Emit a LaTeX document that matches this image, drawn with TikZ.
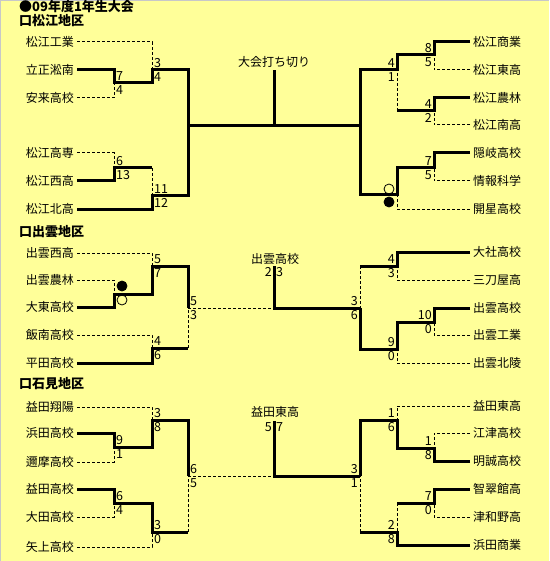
\documentclass[tikz,border=0pt]{standalone}
\usepackage{fontspec}
\setmainfont{Noto Sans CJK JP}
\usetikzlibrary{positioning}
\definecolor{bgyellow}{RGB}{255,255,153}
\definecolor{edgegray}{RGB}{200,200,200}

\begin{document}
\begin{tikzpicture}[x=1pt, y=-1pt,
    teamL/.style={anchor=east, inner sep=3pt, font=\fontsize{12}{12}\selectfont},
    teamR/.style={anchor=west, inner sep=3pt, font=\fontsize{12}{12}\selectfont},
    head/.style={anchor=west, inner sep=0pt, font=\fontsize{13}{13}\selectfont\bfseries},
    lbl/.style={inner sep=0pt, font=\fontsize{12}{12}\selectfont},
    sc/.style={inner sep=0pt, font=\fontsize{12.5}{12.5}\selectfont},
    win/.style={line width=3pt},
    lose/.style={line width=1pt, dash pattern=on 3pt off 2pt},
    wmark/.style={circle, draw, line width=0.8pt, minimum size=10pt, inner sep=0pt},
    lmark/.style={wmark, fill=black}
  ]
    \useasboundingbox (0,0) rectangle (549,561);
    \fill[bgyellow] (0,0) rectangle (549,561);
    \fill[edgegray] (0,0) rectangle (549,1);
    \fill[edgegray] (0,0) rectangle (1,561);

    % headings
    \node[head] (hT) at (19,7) {●09年度1年生大会};
    \node[head] (hM) at (19,21) {口松江地区};
    \node[head] (hI) at (19,232) {口出雲地区};
    \node[head] (hW) at (19,384) {口石見地区};

    % ---------------- Matsue, left
    \node[teamL] (mL1) at (77,42) {松江工業};
    \node[teamL] (mL2) at (77,70) {立正淞南};
    \node[teamL] (mL3) at (77,98) {安来高校};
    \node[teamL] (mL4) at (77,153) {松江高専};
    \node[teamL] (mL5) at (77,181) {松江西高};
    \node[teamL] (mL6) at (77,209) {松江北高};
    \coordinate (mJa) at (114,83);
    \coordinate (mJb) at (152,70);
    \coordinate (mJc) at (114,168);
    \coordinate (mJd) at (152,196);
    \coordinate (mJe) at (188,126);
    \draw[lose] (mL1.east) -| (mJb);
    \draw[lose] (mL3.east) -| (mJa);
    \draw[win] (mL2.east) -| (mJa) -| (mJb) -| (mJe);
    \draw[lose] (mL4.east) -| (mJc);
    \draw[win] (mL5.east) -| (mJc) -- (mJc -| mJd);
    \draw[lose] (mJc -| mJd) -- (mJd);
    \draw[win] (mL6.east) -| (mJd) -| (mJe);
    \node[sc, above right=2pt and 2pt] (mSa1) at (mJa) {7};
    \node[sc, below right=2pt and 2pt] (mSa2) at (mJa) {4};
    \node[sc, above right=2pt and 2pt] (mSb1) at (mJb) {3};
    \node[sc, below right=2pt and 2pt] (mSb2) at (mJb) {4};
    \node[sc, above right=2pt and 2pt] (mSc1) at (mJc) {6};
    \node[sc, below right=2pt and 2pt] (mSc2) at (mJc) {13};
    \node[sc, above right=2pt and 2pt] (mSd1) at (mJd) {11};
    \node[sc, below right=2pt and 2pt] (mSd2) at (mJd) {12};

    % Matsue, final
    \coordinate (mF) at (274,126);
    \coordinate (mT) at (274,70);
    \coordinate (mRJf) at (360,126);
    \draw[win] (mJe) -- (mRJf);
    \draw[win] (mF) -- (mT);
    \node[lbl] (mW) at (274,62) {大会打ち切り};

    % Matsue, right
    \node[teamR] (mR1) at (470,42) {松江商業};
    \node[teamR] (mR2) at (470,70) {松江東高};
    \node[teamR] (mR3) at (470,98) {松江農林};
    \node[teamR] (mR4) at (470,125) {松江南高};
    \node[teamR] (mR5) at (470,153) {隠岐高校};
    \node[teamR] (mR6) at (470,181) {情報科学};
    \node[teamR] (mR7) at (470,209) {開星高校};
    \coordinate (mRJa) at (434,55);
    \coordinate (mRJb) at (434,111);
    \coordinate (mRJc) at (397,70);
    \coordinate (mRJd) at (434,168);
    \coordinate (mRJe) at (397,195);
    \draw[win] (mR1.west) -| (mRJa) -| (mRJc) -| (mRJf);
    \draw[lose] (mR2.west) -| (mRJa);
    \draw[win] (mR3.west) -| (mRJb) -- (mRJb -| mRJc);
    \draw[lose] (mRJb -| mRJc) -- (mRJc);
    \draw[lose] (mR4.west) -| (mRJb);
    \draw[win] (mR5.west) -| (mRJd) -| (mRJe) -| (mRJf);
    \draw[lose] (mR6.west) -| (mRJd);
    \draw[lose] (mR7.west) -| (mRJe);
    \node[sc, above left=2pt and 2pt] (mSe1) at (mRJa) {8};
    \node[sc, below left=2pt and 2pt] (mSe2) at (mRJa) {5};
    \node[sc, above left=2pt and 2pt] (mSf1) at (mRJb) {4};
    \node[sc, below left=2pt and 2pt] (mSf2) at (mRJb) {2};
    \node[sc, above left=2pt and 2pt] (mSg1) at (mRJc) {4};
    \node[sc, below left=2pt and 2pt] (mSg2) at (mRJc) {1};
    \node[sc, above left=2pt and 2pt] (mSh1) at (mRJd) {7};
    \node[sc, below left=2pt and 2pt] (mSh2) at (mRJd) {5};
    \node[wmark] (mC1) at (389,189) {};
    \node[lmark] (mC2) at (389,202) {};

    % ---------------- Izumo, left
    \node[teamL] (iL1) at (77,253) {出雲西高};
    \node[teamL] (iL2) at (77,280) {出雲農林};
    \node[teamL] (iL3) at (77,307) {大東高校};
    \node[teamL] (iL4) at (77,335) {飯南高校};
    \node[teamL] (iL5) at (77,363) {平田高校};
    \coordinate (iJa) at (114,294);
    \coordinate (iJb) at (152,266);
    \coordinate (iJc) at (152,348);
    \coordinate (iJd) at (188,308);
    \draw[lose] (iL1.east) -| (iJb);
    \draw[lose] (iL2.east) -| (iJa);
    \draw[win] (iL3.east) -| (iJa) -| (iJb) -| (iJd);
    \draw[lose] (iL4.east) -| (iJc);
    \draw[win] (iL5.east) -| (iJc) -- (iJc -| iJd);
    \draw[lose] (iJc -| iJd) -- (iJd);
    \node[lmark] (iC1) at (122,286) {};
    \node[wmark] (iC2) at (122,300) {};
    \node[sc, above right=2pt and 2pt] (iSb1) at (iJb) {5};
    \node[sc, below right=2pt and 2pt] (iSb2) at (iJb) {7};
    \node[sc, above right=2pt and 2pt] (iSc1) at (iJc) {4};
    \node[sc, below right=2pt and 2pt] (iSc2) at (iJc) {6};
    \node[sc, above right=2pt and 2pt] (iSd1) at (iJd) {5};
    \node[sc, below right=2pt and 2pt] (iSd2) at (iJd) {3};

    % Izumo, right
    \node[teamR] (iR1) at (470,252) {大社高校};
    \node[teamR] (iR2) at (470,280) {三刀屋高};
    \node[teamR] (iR3) at (470,308) {出雲高校};
    \node[teamR] (iR4) at (470,335) {出雲工業};
    \node[teamR] (iR5) at (470,363) {出雲北陵};
    \coordinate (iRJa) at (397,266);
    \coordinate (iRJb) at (434,322);
    \coordinate (iRJc) at (397,349);
    \coordinate (iRJe) at (360,308);
    \draw[win] (iR1.west) -| (iRJa) -- (iRJa -| iRJe);
    \draw[lose] (iRJa -| iRJe) -- (iRJe);
    \draw[lose] (iR2.west) -| (iRJa);
    \draw[win] (iR3.west) -| (iRJb) -| (iRJc) -| (iRJe);
    \draw[lose] (iR4.west) -| (iRJb);
    \draw[lose] (iR5.west) -| (iRJc);
    \node[sc, above left=2pt and 2pt] (iSe1) at (iRJa) {4};
    \node[sc, below left=2pt and 2pt] (iSe2) at (iRJa) {3};
    \node[sc, above left=2pt and 2pt] (iSf1) at (iRJb) {10};
    \node[sc, below left=2pt and 2pt] (iSf2) at (iRJb) {0};
    \node[sc, above left=2pt and 2pt] (iSg1) at (iRJc) {9};
    \node[sc, below left=2pt and 2pt] (iSg2) at (iRJc) {0};
    \node[sc, above left=2pt and 2pt] (iSh1) at (iRJe) {3};
    \node[sc, below left=2pt and 2pt] (iSh2) at (iRJe) {6};

    % Izumo, final
    \coordinate (iF) at (274,308);
    \coordinate (iT) at (274,266);
    \draw[lose] (iJd) -- (iF);
    \draw[win] (iRJe) -- (iF) -- (iT);
    \node[lbl] (iW) at (275,259) {出雲高校};
    \node[sc, below left=1pt and 2pt] (iS1) at (iT) {2};
    \node[sc, below right=1pt and 2pt] (iS2) at (iT) {3};

    % ---------------- Iwami, left
    \node[teamL] (wL1) at (77,407) {益田翔陽};
    \node[teamL] (wL2) at (77,433) {浜田高校};
    \node[teamL] (wL3) at (77,462) {邇摩高校};
    \node[teamL] (wL4) at (77,489) {益田高校};
    \node[teamL] (wL5) at (77,517) {大田高校};
    \node[teamL] (wL6) at (77,547) {矢上高校};
    \coordinate (wJa) at (114,447);
    \coordinate (wJb) at (152,420);
    \coordinate (wJc) at (114,503);
    \coordinate (wJd) at (152,532);
    \coordinate (wJe) at (188,476);
    \draw[lose] (wL1.east) -| (wJb);
    \draw[win] (wL2.east) -| (wJa) -| (wJb) -| (wJe);
    \draw[lose] (wL3.east) -| (wJa);
    \draw[win] (wL4.east) -| (wJc) -| (wJd) -- (wJd -| wJe);
    \draw[lose] (wJd -| wJe) -- (wJe);
    \draw[lose] (wL5.east) -| (wJc);
    \draw[lose] (wL6.east) -| (wJd);
    \node[sc, above right=2pt and 2pt] (wSa1) at (wJa) {9};
    \node[sc, below right=2pt and 2pt] (wSa2) at (wJa) {1};
    \node[sc, above right=2pt and 2pt] (wSb1) at (wJb) {3};
    \node[sc, below right=2pt and 2pt] (wSb2) at (wJb) {8};
    \node[sc, above right=2pt and 2pt] (wSc1) at (wJc) {6};
    \node[sc, below right=2pt and 2pt] (wSc2) at (wJc) {4};
    \node[sc, above right=2pt and 2pt] (wSd1) at (wJd) {3};
    \node[sc, below right=2pt and 2pt] (wSd2) at (wJd) {0};
    \node[sc, above right=2pt and 2pt] (wSe1) at (wJe) {6};
    \node[sc, below right=2pt and 2pt] (wSe2) at (wJe) {5};

    % Iwami, right
    \node[teamR] (wR1) at (470,406) {益田東高};
    \node[teamR] (wR2) at (470,433) {江津高校};
    \node[teamR] (wR3) at (470,461) {明誠高校};
    \node[teamR] (wR4) at (470,489) {智翠館高};
    \node[teamR] (wR5) at (470,517) {津和野高};
    \node[teamR] (wR6) at (470,545) {浜田商業};
    \coordinate (wRJa) at (434,448);
    \coordinate (wRJb) at (397,420);
    \coordinate (wRJc) at (434,503);
    \coordinate (wRJd) at (397,532);
    \coordinate (wRJe) at (360,476);
    \draw[lose] (wR1.west) -| (wRJb);
    \draw[lose] (wR2.west) -| (wRJa);
    \draw[win] (wR3.west) -| (wRJa) -| (wRJb) -| (wRJe);
    \draw[win] (wR4.west) -| (wRJc) -- (wRJc -| wRJd);
    \draw[lose] (wRJc -| wRJd) -- (wRJd);
    \draw[lose] (wR5.west) -| (wRJc);
    \draw[win] (wR6.west) -| (wRJd) -- (wRJd -| wRJe);
    \draw[lose] (wRJd -| wRJe) -- (wRJe);
    \node[sc, above left=2pt and 2pt] (wSf1) at (wRJa) {1};
    \node[sc, below left=2pt and 2pt] (wSf2) at (wRJa) {8};
    \node[sc, above left=2pt and 2pt] (wSg1) at (wRJb) {1};
    \node[sc, below left=2pt and 2pt] (wSg2) at (wRJb) {6};
    \node[sc, above left=2pt and 2pt] (wSh1) at (wRJc) {7};
    \node[sc, below left=2pt and 2pt] (wSh2) at (wRJc) {0};
    \node[sc, above left=2pt and 2pt] (wSi1) at (wRJd) {2};
    \node[sc, below left=2pt and 2pt] (wSi2) at (wRJd) {8};
    \node[sc, above left=2pt and 2pt] (wSj1) at (wRJe) {3};
    \node[sc, below left=2pt and 2pt] (wSj2) at (wRJe) {1};

    % Iwami, final
    \coordinate (wF) at (274,476);
    \coordinate (wT) at (274,421);
    \draw[lose] (wJe) -- (wF);
    \draw[win] (wRJe) -- (wF) -- (wT);
    \node[lbl] (wW) at (275,412) {益田東高};
    \node[sc, below left=1pt and 2pt] (wS1) at (wT) {5};
    \node[sc, below right=1pt and 2pt] (wS2) at (wT) {7};
  \end{tikzpicture}
\end{document}
